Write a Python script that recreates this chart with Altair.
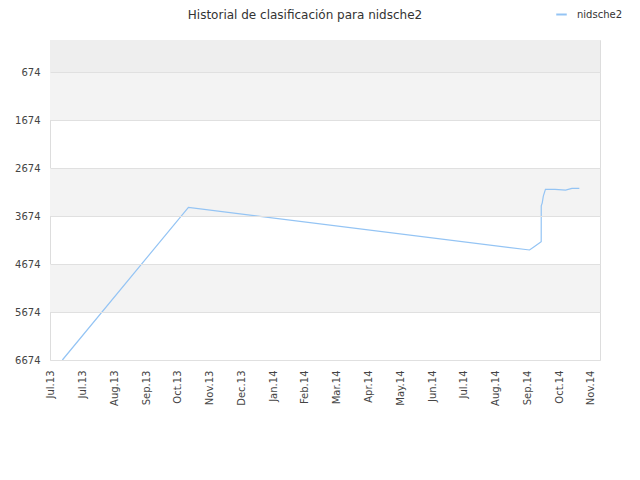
import altair as alt
import pandas as pd

# ---- data ----
dates = [
    "2013-07-12", "2013-11-08", "2014-09-26", "2014-09-30", "2014-10-07T00:00",
    "2014-10-07T01:00", "2014-10-08", "2014-10-09", "2014-10-11", "2014-10-20",
    "2014-10-30", "2014-11-05", "2014-11-12",
]
ranks = [6674, 3493, 4382, 4320, 4209, 3460, 3400, 3260, 3118, 3118, 3135, 3100, 3100]
series_name = "nidsche2"

y_ticks = [674, 1674, 2674, 3674, 4674, 5674, 6674]
band_dark = [(7, 674)]
band_light = [(674, 1674), (2674, 3674), (4674, 5674)]
x_ticks = [
    "2013-07-01", "2013-07-31", "2013-08-30", "2013-09-29", "2013-10-29", "2013-11-28",
    "2013-12-28", "2014-01-27", "2014-02-26", "2014-03-28", "2014-04-27", "2014-05-27",
    "2014-06-26", "2014-07-26", "2014-08-25", "2014-09-24", "2014-10-24", "2014-11-23",
]
x_domain = ["2013-06-30T08:00", "2014-12-01T12:00"]


def ms(s):
    return int(pd.Timestamp(s, tz="UTC").value // 1_000_000)


line_df = pd.DataFrame({
    "t": [ms(d) for d in dates],
    "rank": ranks,
    "order": list(range(len(dates))),
    "serie": [series_name] * len(dates),
})
dark_df = pd.DataFrame({"y0": [b[0] for b in band_dark], "y1": [b[1] for b in band_dark]})
light_df = pd.DataFrame({"y0": [b[0] for b in band_light], "y1": [b[1] for b in band_light]})

FONT = "DejaVu Sans"
LINE_COLOR = "#94c4f4"

y_scale = alt.Scale(domain=[7, 6674], reverse=True, nice=False, zero=False)
x_scale = alt.Scale(type="utc", domain=[ms(d) for d in x_domain], nice=False)

y_axis = alt.Axis(values=y_ticks, format="d", ticks=False, domain=False, grid=True,
                  gridColor="#e0e0e0", zindex=1, labelPadding=10,
                  labelFont=FONT, labelFontSize=10, labelColor="#444444",
                  labelOverlap=False, title=None)

dark = alt.Chart(dark_df).mark_rect(color="#eeeeee").encode(
    x=alt.value(0), x2=alt.value("width"),
    y=alt.Y("y0:Q", scale=y_scale, axis=y_axis, title=None), y2="y1:Q",
)
light = alt.Chart(light_df).mark_rect(color="#f3f3f3").encode(
    x=alt.value(0), x2=alt.value("width"),
    y=alt.Y("y0:Q", scale=y_scale, axis=y_axis, title=None), y2="y1:Q",
)

line = alt.Chart(line_df).mark_line(strokeWidth=1.2, interpolate="linear").encode(
    x=alt.X("t:T", scale=x_scale, title=None,
            axis=alt.Axis(values=[ms(d) for d in x_ticks],
                          labelExpr="utcFormat(datum.value, '%b.%y')",
                          labelAngle=270, labelAlign="right", labelBaseline="middle",
                          labelPadding=10, ticks=False, domain=False, grid=False,
                          labelFont=FONT, labelFontSize=10, labelColor="#444444",
                          labelOverlap=False, labelBound=False, labelFlush=False)),
    y=alt.Y("rank:Q", scale=y_scale, title=None, axis=y_axis),
    order="order:Q",
    color=alt.Color("serie:N", scale=alt.Scale(domain=[series_name], range=[LINE_COLOR]),
                    legend=alt.Legend(title=None, orient="none", legendX=505, legendY=-32,
                                      symbolType="stroke", symbolStrokeWidth=2,
                                      symbolSize=110, labelOffset=9,
                                      labelFont=FONT, labelFontSize=10,
                                      labelColor="#333333", padding=0)),
)

chart = alt.layer(dark, light, line).properties(
    width=550, height=320,
    autosize=alt.AutoSizeParams(type="none"),
    padding={"left": 42, "top": 32, "right": 32, "bottom": 112},
    title=alt.TitleParams("Historial de clasificación para nidsche2", font=FONT,
                          fontSize=12, fontWeight="normal", color="#333333",
                          anchor="middle", dx=-20, offset=-14),
).configure_view(stroke="#dddddd")

chart.save("out.html", embed_options={"renderer": "svg", "actions": False})
